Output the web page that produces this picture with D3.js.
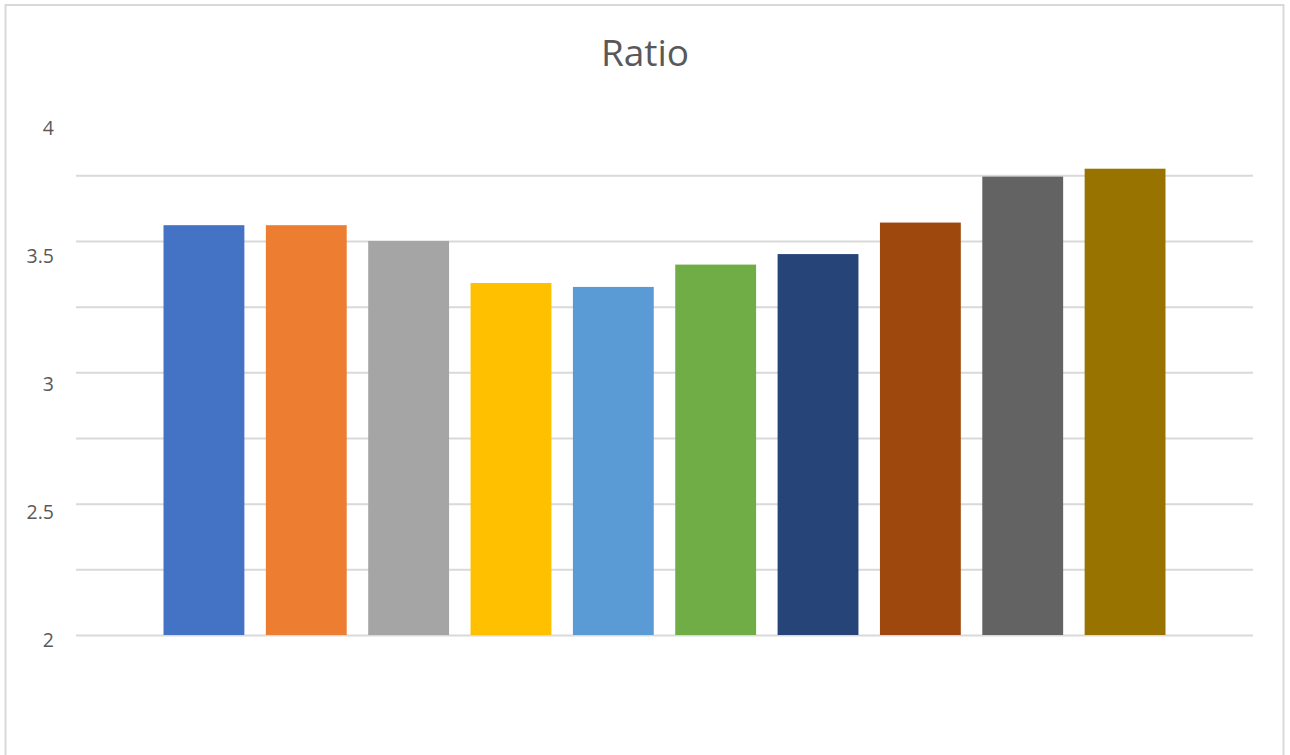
<!DOCTYPE html>
<html>
<head>
<meta charset="utf-8">
<script src="https://cdn.jsdelivr.net/npm/d3@7"></script>
<style>
  html, body { margin: 0; padding: 0; background: #fff; }
  svg { display: block; }
</style>
</head>
<body>
<svg id="chart" width="1290" height="755"></svg>
<script>
// Ratio per category
const categories = ["A", "B", "C", "D", "E", "F", "G", "H", "I", "J"];
const ratios = [3.56, 3.56, 3.50, 3.34, 3.325, 3.41, 3.45, 3.57, 3.745, 3.775];
const barColors = ["#4472C4", "#ED7D31", "#A5A5A5", "#FFC000", "#5B9BD5",
                   "#70AD47", "#264478", "#9E480E", "#636363", "#997300"];
const gridValues = [2, 2.25, 2.5, 2.75, 3, 3.25, 3.5, 3.75];
const tickLabels = [2, 2.5, 3, 3.5, 4];
const chartTitle = "Ratio";

const svg = d3.select("#chart");
const textColor = "#595959";
const font = "'Open Sans', 'Liberation Sans', sans-serif";

// outer frame
svg.append("rect")
  .attr("x", 5.5).attr("y", 5)
  .attr("width", 1278).attr("height", 780)
  .attr("fill", "#fff")
  .attr("stroke", "#d9d9d9").attr("stroke-width", 2);

const plotLeft = 76, plotRight = 1253;

const x = d3.scaleBand()
  .domain(categories)
  .range([plotLeft, plotRight])
  .paddingInner(0.21)
  .paddingOuter(0.855);

const y = d3.scaleLinear().domain([2, 4]).range([635, 109.6]);
// value labels sit on their own slightly compressed scale
const yLabel = d3.scaleLinear().domain([2, 4]).range([640, 128]);

// gridlines
svg.append("g")
  .attr("transform", `translate(${plotLeft},0)`)
  .call(d3.axisRight(y).tickValues(gridValues).tickSize(plotRight - plotLeft).tickFormat(""))
  .call(g => g.select(".domain").remove())
  .call(g => g.selectAll(".tick line").attr("stroke", "#d9d9d9").attr("stroke-width", 2));

// y labels
svg.append("g")
  .attr("transform", "translate(54,0)")
  .call(d3.axisLeft(yLabel).tickValues(tickLabels).tickSize(0).tickPadding(0).tickFormat(d3.format("")))
  .call(g => g.select(".domain").remove())
  .call(g => g.selectAll(".tick text")
    .attr("fill", textColor)
    .style("font-family", font)
    .style("font-size", "19.5px"));

// bars
svg.append("g").selectAll("rect")
  .data(categories)
  .join("rect")
  .attr("x", d => x(d))
  .attr("width", x.bandwidth())
  .attr("y", (d, i) => y(ratios[i]))
  .attr("height", (d, i) => y(2) - y(ratios[i]))
  .attr("fill", (d, i) => barColors[i]);

// title
svg.append("text")
  .attr("x", 645).attr("y", 66)
  .attr("text-anchor", "middle")
  .attr("fill", textColor)
  .style("font-family", font)
  .style("font-size", "37px")
  .text(chartTitle);
</script>
</body>
</html>
